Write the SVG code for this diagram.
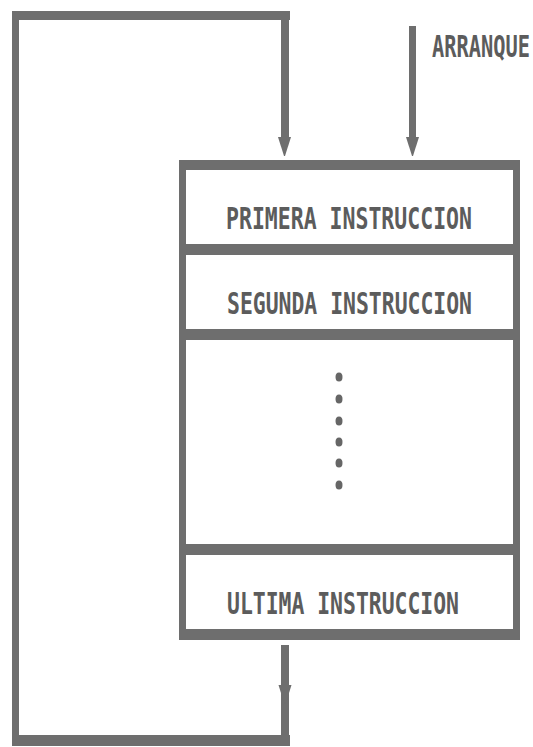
<svg xmlns="http://www.w3.org/2000/svg" width="533" height="747" viewBox="0 0 533 747">
  <style>
    .ln { fill: #6e6e6e; }
    .lbl { font-family: "DejaVu Sans Mono", "Liberation Mono", monospace; font-size: 30px; font-weight: bold; fill: #5c5c5c; }
    .dot { fill: #666666; }
  </style>
  <defs>
    <!-- downward arrowhead, tip at (0,0) -->
    <polygon id="head" points="-6.5,-18 6.5,-18 0.5,1 -0.5,1" class="ln"/>
  </defs>
  <rect width="533" height="747" fill="#ffffff"/>

  <g id="connectors">
    <!-- return loop: from bottom of program around the left back to the top -->
    <rect class="ln" x="281" y="645" width="8" height="101"/>
    <rect class="ln" x="12" y="735" width="278" height="11"/>
    <rect class="ln" x="12" y="11" width="7" height="735"/>
    <rect class="ln" x="12" y="11" width="278" height="9"/>
    <rect class="ln" x="281" y="11" width="8" height="128"/>
    <use href="#head" x="284.5" y="155"/>
    <use href="#head" x="285" y="703"/>
    <!-- start entry -->
    <rect class="ln" x="409" y="26" width="7" height="113"/>
    <use href="#head" x="412.5" y="155"/>
    <text class="lbl" x="432" y="57" textLength="98" lengthAdjust="spacingAndGlyphs">ARRANQUE</text>
  </g>

  <g id="program-frame">
    <rect class="ln" x="179" y="160" width="341" height="10"/>
    <rect class="ln" x="179" y="629" width="341" height="11"/>
    <rect class="ln" x="179" y="160" width="7" height="480"/>
    <rect class="ln" x="513" y="160" width="7" height="480"/>
    <rect class="ln" x="179" y="244" width="341" height="11"/>
    <rect class="ln" x="179" y="329" width="341" height="11"/>
    <rect class="ln" x="179" y="544" width="341" height="11"/>
  </g>

  <g id="primera">
    <text class="lbl" x="226" y="229" textLength="246" lengthAdjust="spacingAndGlyphs">PRIMERA INSTRUCCION</text>
  </g>

  <g id="segunda">
    <text class="lbl" x="227" y="314" textLength="245" lengthAdjust="spacingAndGlyphs">SEGUNDA INSTRUCCION</text>
  </g>

  <g id="intermedias">
    <ellipse class="dot" cx="339" cy="377" rx="3.5" ry="4.5"/>
    <ellipse class="dot" cx="339" cy="399" rx="3.5" ry="4.5"/>
    <ellipse class="dot" cx="339" cy="421" rx="3.5" ry="4.5"/>
    <ellipse class="dot" cx="339" cy="442" rx="3.5" ry="4.5"/>
    <ellipse class="dot" cx="339" cy="463" rx="3.5" ry="4.5"/>
    <ellipse class="dot" cx="339" cy="485" rx="3.5" ry="4.5"/>
  </g>

  <g id="ultima">
    <text class="lbl" x="227" y="614" textLength="232" lengthAdjust="spacingAndGlyphs">ULTIMA INSTRUCCION</text>
  </g>
</svg>
